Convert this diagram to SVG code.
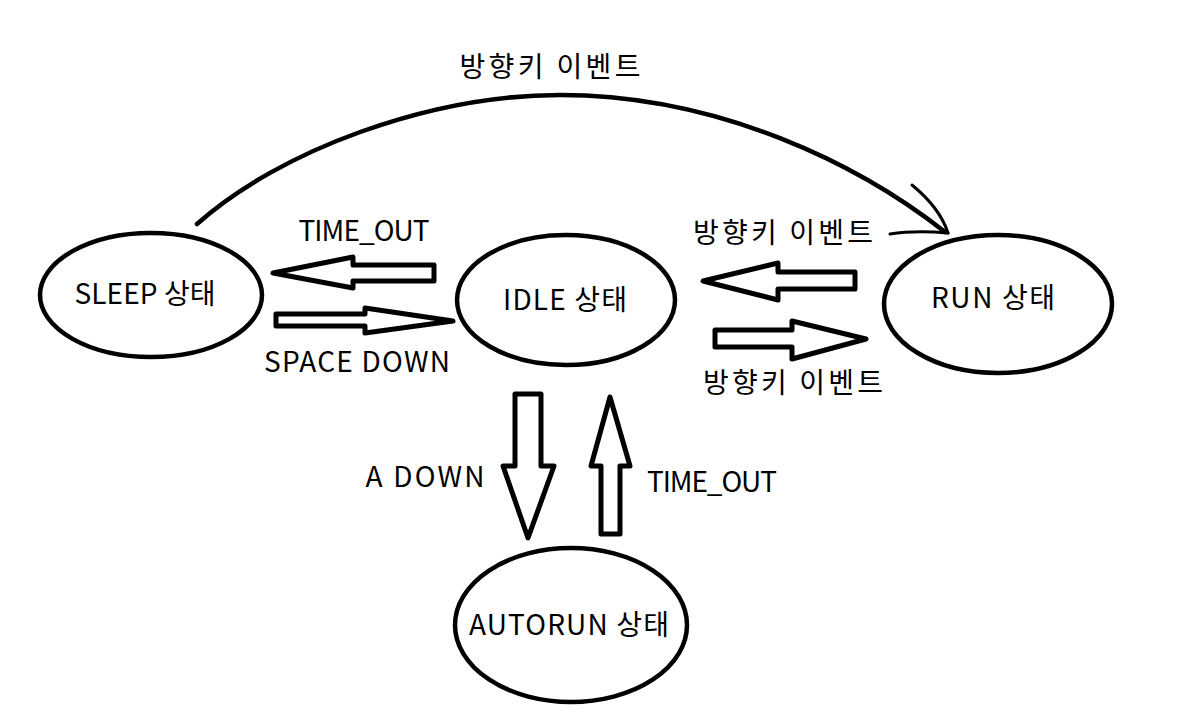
<svg xmlns="http://www.w3.org/2000/svg" width="1194" height="720" viewBox="0 0 1194 720">
<style>
.node{fill:#fff;stroke:#000;stroke-width:4.5}
.blk{fill:#fff;stroke:#000;stroke-width:5;stroke-linejoin:round}
.ln{fill:none;stroke:#000;stroke-width:4.5;stroke-linecap:round}
.hd{fill:none;stroke:#000;stroke-width:3;stroke-linecap:round}
text{font-family:"Noto Sans CJK KR","Open Sans",sans-serif;font-size:28px;fill:#000;text-anchor:middle}
</style>
<rect width="1194" height="720" fill="#fff"/>
<g id="connectors">
<path class="ln" d="M197,224 C280,150 430,95 560,95 C720,95 860,165 945,232"/>
<path class="hd" d="M912,185 Q940,208 948,233"/>
<path class="hd" d="M890,234 Q915,230 948,233"/>
<polygon class="blk" points="273,273 353,257 353,265 434,265 434,281 353,281 353,288"/>
<polygon class="blk" points="453,321 365,308 365,314 276,314 276,326 365,326 365,333"/>
<polygon class="blk" points="703,281 778,263 778,272 855,272 855,289 778,289 778,300"/>
<polygon class="blk" points="866,339 792,321 792,330 715,330 715,347 792,347 792,359"/>
<polygon class="blk" points="528,538 503,466 515,466 515,394 541,394 541,466 554,466"/>
<polygon class="blk" points="610,397 591,466 601,466 601,534 620,534 620,466 630,466"/>
<text x="550" y="77" textLength="181">방향키 이벤트</text>
<text x="364" y="241" textLength="131">TIME_OUT</text>
<text x="357" y="372" textLength="186">SPACE DOWN</text>
<text x="783" y="243" textLength="180">방향키 이벤트</text>
<text x="793" y="393" textLength="180">방향키 이벤트</text>
<text x="425" y="487" textLength="119">A DOWN</text>
<text x="712" y="492" textLength="130">TIME_OUT</text>
</g>
<g id="sleep">
<ellipse class="node" cx="151" cy="295" rx="111" ry="62"/>
<text x="145" y="304" textLength="141">SLEEP 상태</text>
</g>
<g id="idle">
<ellipse class="node" cx="566" cy="300" rx="109" ry="65"/>
<text x="565" y="310" textLength="124">IDLE 상태</text>
</g>
<g id="run">
<ellipse class="node" cx="998" cy="304" rx="114" ry="69"/>
<text x="993" y="308" textLength="124">RUN 상태</text>
</g>
<g id="autorun">
<ellipse class="node" cx="571" cy="625" rx="116" ry="77"/>
<text x="569" y="635" textLength="200">AUTORUN 상태</text>
</g>
</svg>
